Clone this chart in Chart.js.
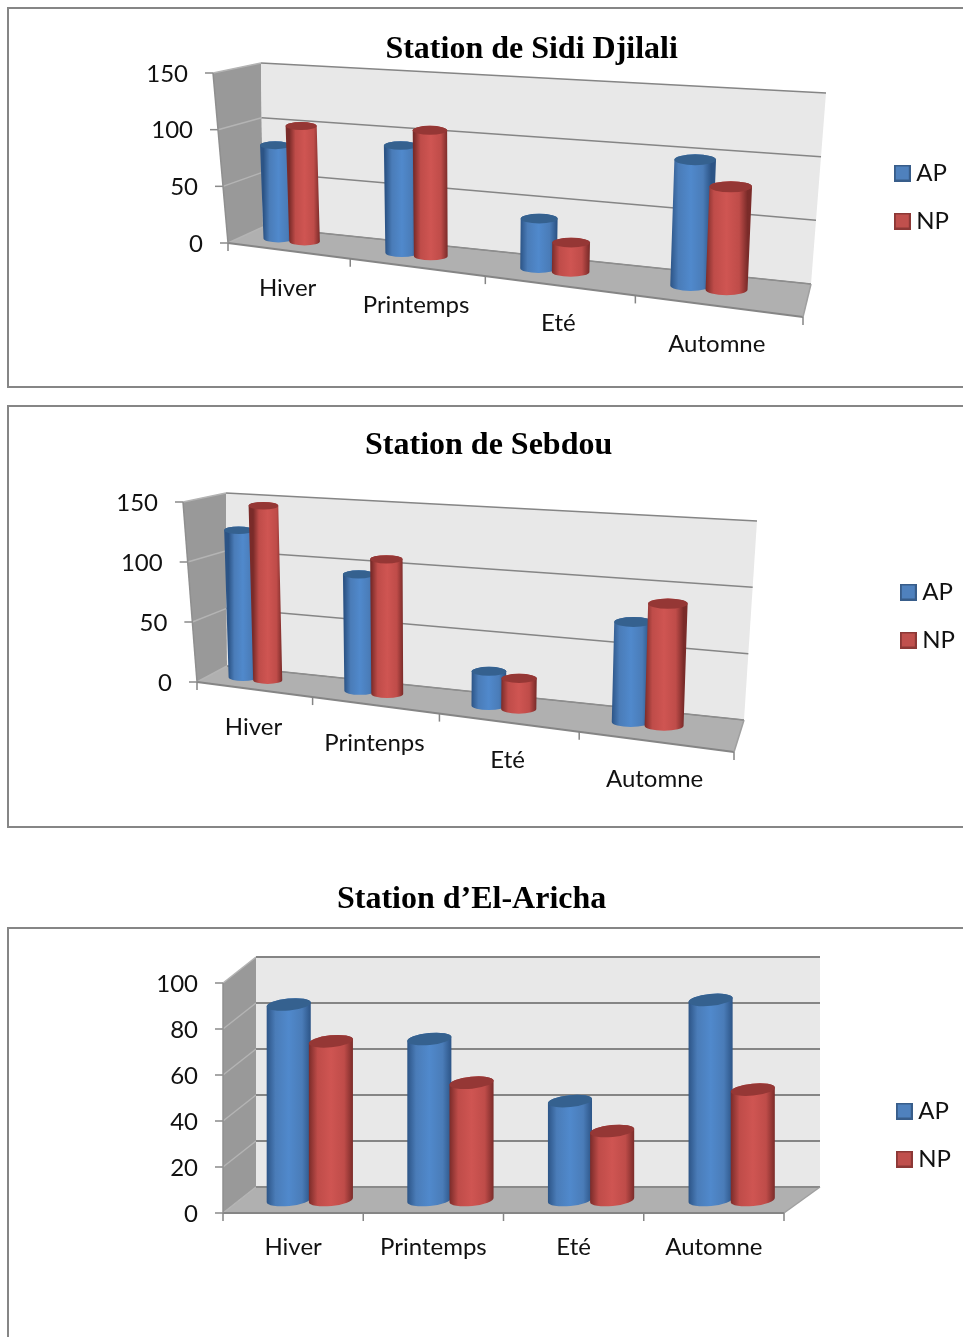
<!DOCTYPE html>
<html lang="fr">
<head>
<meta charset="utf-8">
<title>Stations</title>
<script src="https://cdn.jsdelivr.net/npm/chart.js@4"></script>
<style>
    html, body { margin: 0; height: 1337px; overflow: hidden; background: #fff; }
    .cadre { position: absolute; left: 7px; width: 1000px; border: 2px solid #868686; box-sizing: border-box; }
    canvas { position: absolute; left: 8px; }
</style>
</head>
<body>
<div class="cadre" style="top:7px;height:381px"></div>
<div class="cadre" style="top:405px;height:423px"></div>
<div class="cadre" style="top:927px;height:500px"></div>
<canvas id="sidiDjilali" style="top:7px"></canvas>
<canvas id="sebdou" style="top:405px"></canvas>
<canvas id="elAricha" style="top:870px"></canvas>

<script>
// Valeurs
const saisons1 = ['Hiver', 'Printemps', 'Eté', 'Automne'];
const saisons2 = ['Hiver', 'Printenps', 'Eté', 'Automne'];
const saisons3 = ['Hiver', 'Printemps', 'Eté', 'Automne'];

const sidiAP = [83, 92, 41, 100];
const sidiNP = [102, 107, 24, 81];
const sebdouAP = [124, 95, 27, 76];
const sebdouNP = [146, 109, 24, 92];
const arichaAP = [85, 70, 43, 87];
const arichaNP = [69, 51, 30, 48];

// Habillage des cylindres : [bord sombre, côté, centre, dessus]
const bleu = ['#2c5486', '#4a7cb8', '#5089cc', '#35618f'];
const rouge = ['#7a2b29', '#bf4c49', '#cf5552', '#953735'];

// Projection de la boîte 3D : coins en pixels de la page
function point(x, y) { return { x: x, y: y }; }
function melange(a, b, t) { return point(a.x + (b.x - a.x) * t, a.y + (b.y - a.y) * t); }

function projeter(vue, u, v, d) {
    const k = vue.perspective;
    const up = u * k / (1 + u * (k - 1));
    const bas = melange(melange(vue.avantG0, vue.avantD0, up), melange(vue.fondG0, vue.fondD0, up), d);
    const haut = melange(melange(vue.avantG1, vue.avantD1, up), melange(vue.fondG1, vue.fondD1, up), d);
    return melange(bas, haut, v);
}

function polygone(ctx, pts, couleur) {
    ctx.beginPath();
    pts.forEach((p, i) => i ? ctx.lineTo(p.x, p.y) : ctx.moveTo(p.x, p.y));
    ctx.closePath();
    ctx.fillStyle = couleur;
    ctx.fill();
}

function trait(ctx, a, b, couleur, largeur) {
    ctx.beginPath();
    ctx.moveTo(a.x, a.y);
    ctx.lineTo(b.x, b.y);
    ctx.strokeStyle = couleur;
    ctx.lineWidth = largeur;
    ctx.stroke();
}

function dessinerBoite(chart, vue) {
    const ctx = chart.ctx;
    const xs = chart.scales.x;
    const ys = chart.scales.y;
    const aire = chart.chartArea;

    polygone(ctx, [vue.avantG0, vue.fondG0, vue.fondG1, vue.avantG1], '#999999');
    polygone(ctx, [vue.fondG0, vue.fondD0, vue.fondD1, vue.fondG1], '#e8e8e8');
    polygone(ctx, [vue.avantG0, vue.avantD0, vue.fondD0, vue.fondG0], '#b0b0b0');

    ctx.font = '24px Lato';
    ctx.fillStyle = '#111';
    ctx.textAlign = 'right';
    ctx.textBaseline = 'middle';
    ys.ticks.forEach(t => {
        const v = (aire.bottom - ys.getPixelForValue(t.value)) / aire.height;
        const a = projeter(vue, 0, v, 0);
        const b = projeter(vue, 0, v, 1);
        const c = projeter(vue, 1, v, 1);
        trait(ctx, a, b, '#b4b4b4', 1.5);
        trait(ctx, b, c, '#858585', vue.grille);
        trait(ctx, a, point(a.x - 8, a.y), '#8a8a8a', 1.5);
        ctx.fillStyle = '#111';
        ctx.fillText(t.label, a.x - 25, a.y + 1);
    });

    trait(ctx, vue.avantG0, vue.avantD0, '#858585', 2);
    trait(ctx, vue.avantD0, vue.fondD0, '#a0a0a0', 1.5);
    trait(ctx, vue.fondG0, vue.fondD0, '#8f8f8f', 1);
    trait(ctx, vue.avantG0, vue.avantG1, '#8f8f8f', 1.5);

    ctx.textAlign = 'center';
    const n = chart.data.labels.length;
    for (let i = 0; i <= n; i++) {
        const a = projeter(vue, i / n, 0, 0);
        trait(ctx, a, point(a.x, a.y + 8), '#858585', 1.5);
    }
    chart.data.labels.forEach((nom, i) => {
        const u = (xs.getPixelForValue(i) - aire.left) / aire.width;
        const a = projeter(vue, u, 0, 0);
        ctx.fillStyle = '#111';
        ctx.fillText(nom, a.x, a.y + vue.decalLabel);
    });
}

function dessinerCylindre(chart, vue, el, teintes) {
    const ctx = chart.ctx;
    const aire = chart.chartArea;
    const u = (el.x - aire.left) / aire.width;
    const du = el.width / 2 / aire.width;
    const v = (aire.bottom - el.y) / aire.height;

    function rayon(vv) {
        const g = projeter(vue, u - du, vv, vue.profondeur);
        const d = projeter(vue, u + du, vv, vue.profondeur);
        return Math.hypot(d.x - g.x, d.y - g.y) / 2 * vue.epaisseur;
    }
    const p = projeter(vue, u, 0, vue.profondeur);
    const q = projeter(vue, u, v, vue.profondeur);
    p.x += vue.decalBarres;
    q.x += vue.decalBarres;
    const rb = rayon(0);
    const rh = rayon(v);

    const grad = ctx.createLinearGradient(p.x - rb, 0, p.x + rb, 0);
    grad.addColorStop(0, teintes[0]);
    grad.addColorStop(0.2, teintes[1]);
    grad.addColorStop(0.5, teintes[2]);
    grad.addColorStop(0.8, teintes[1]);
    grad.addColorStop(1, teintes[0]);

    ctx.beginPath();
    ctx.ellipse(q.x, q.y, rh, rh * vue.ovale, vue.pente, 0, Math.PI, true);
    ctx.ellipse(p.x, p.y, rb, rb * vue.ovale, vue.pente, Math.PI, 0, true);
    ctx.closePath();
    ctx.fillStyle = grad;
    ctx.fill();

    ctx.beginPath();
    ctx.ellipse(q.x, q.y, rh, rh * vue.ovale, vue.pente, 0, Math.PI * 2);
    ctx.fillStyle = teintes[3];
    ctx.fill();
}

// Les barres plates sont remplacées par la boîte et les cylindres
const boite3d = {
    id: 'boite3d',
    beforeDatasetsDraw(chart, args, opts) {
        const ctx = chart.ctx;
        const vue = opts.vue;
        ctx.save();
        ctx.translate(-8, -vue.haut);
        dessinerBoite(chart, vue);
        const n = chart.data.labels.length;
        for (let i = 0; i < n; i++) {
            chart.data.datasets.forEach((ds, j) => {
                dessinerCylindre(chart, vue, chart.getDatasetMeta(j).data[i], j === 0 ? bleu : rouge);
            });
        }
        ctx.restore();
        return false;
    }
};

function carreLegende(fond, bord) {
    const c = document.createElement('canvas');
    c.width = 17;
    c.height = 17;
    const g = c.getContext('2d');
    g.fillStyle = bord;
    g.fillRect(0, 0, 17, 17);
    g.fillStyle = fond;
    g.fillRect(2, 2, 13, 13);
    return c;
}

function creerGraphique(id, titre, saisons, ap, np, largeur, hauteur, maxY, pasY, marges, margeTitre, vue) {
    const canvas = document.getElementById(id);
    canvas.width = largeur;
    canvas.height = hauteur;
    return new Chart(canvas, {
        type: 'bar',
        data: {
            labels: saisons,
            datasets: [
                { label: 'AP', data: ap, backgroundColor: '#4f81bd', borderColor: '#385d8a' },
                { label: 'NP', data: np, backgroundColor: '#c0504d', borderColor: '#8c3836' }
            ]
        },
        options: {
            responsive: false,
            animation: false,
            layout: { padding: marges },
            datasets: { bar: { categoryPercentage: vue.categorie, barPercentage: 1 } },
            scales: {
                x: { display: false },
                y: { display: false, min: 0, max: maxY, ticks: { stepSize: pasY } }
            },
            plugins: {
                boite3d: { vue: vue },
                title: {
                    display: true,
                    text: titre,
                    fullSize: false,
                    color: '#000',
                    font: { family: '"Liberation Serif"', size: 32, weight: 'bold', lineHeight: 1.2 },
                    padding: { top: margeTitre, bottom: 0 }
                },
                legend: {
                    position: 'right',
                    labels: {
                        color: '#111',
                        font: { family: 'Lato', size: 24 },
                        padding: 24,
                        usePointStyle: true,
                        pointStyleWidth: 4,
                        boxHeight: 17,
                        generateLabels: c => c.data.datasets.map((ds, i) => ({
                            text: ds.label,
                            datasetIndex: i,
                            fontColor: '#111',
                            pointStyle: carreLegende(ds.backgroundColor, ds.borderColor)
                        }))
                    }
                },
                tooltip: { enabled: false }
            }
        },
        plugins: [boite3d]
    });
}

creerGraphique('sidiDjilali', 'Station de Sidi Djilali', saisons1, sidiAP, sidiNP, 1000, 380, 150, 50,
    { left: 179, right: 49 }, 24, {
        haut: 7, perspective: 0.81, profondeur: 0.6, decalBarres: -15.5, decalLabel: 38, categorie: 0.44,
        epaisseur: 1.15, ovale: 0.26, pente: 0, grille: 1.5,
        avantG0: point(228, 243), avantD0: point(803, 317), fondG0: point(263, 227), fondD0: point(811, 284),
        avantG1: point(213, 73), avantD1: point(805, 119), fondG1: point(261, 63), fondD1: point(826, 93)
    });

creerGraphique('sebdou', 'Station de Sebdou', saisons2, sebdouAP, sebdouNP, 1000, 422, 150, 50,
    { left: 87, right: 43 }, 22, {
        haut: 405, perspective: 0.823, profondeur: 0.6, decalBarres: -15, decalLabel: 38, categorie: 0.44,
        epaisseur: 1.15, ovale: 0.26, pente: 0, grille: 1.5,
        avantG0: point(197, 682), avantD0: point(734, 752), fondG0: point(227, 666), fondD0: point(744, 720),
        avantG1: point(183, 502), avantD1: point(734, 545), fondG1: point(226, 493), fondD1: point(757, 521)
    });

creerGraphique('elAricha', 'Station d’El-Aricha', saisons3, arichaAP, arichaNP, 1000, 530, 100, 20,
    { left: 57, right: 47 }, 11, {
        haut: 870, perspective: 1, profondeur: 0.5, decalBarres: 0, decalLabel: 34, categorie: 0.6,
        epaisseur: 1.05, ovale: 0.27, pente: -0.1, grille: 2,
        avantG0: point(223, 1213), avantD0: point(784, 1213), fondG0: point(256, 1187), fondD0: point(820, 1187),
        avantG1: point(223, 983), avantD1: point(784, 983), fondG1: point(256, 957), fondD1: point(820, 957)
    });
</script>
</body>
</html>
